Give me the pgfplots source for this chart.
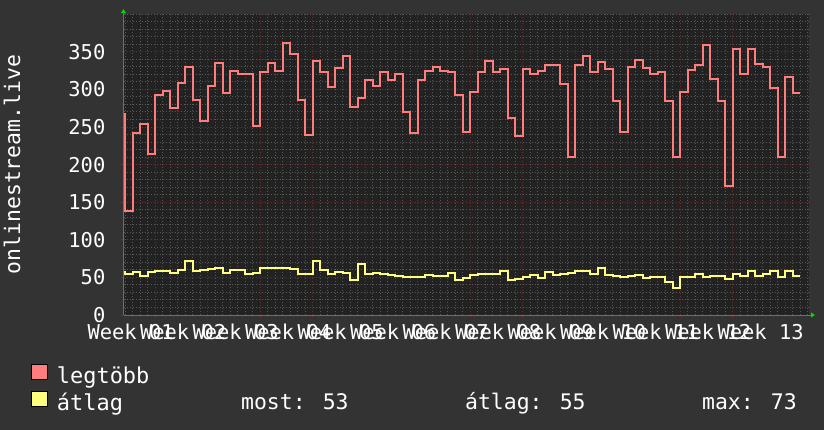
\documentclass[border=0pt]{standalone}
\usepackage{fontspec}
\usepackage{pgfplots}
\pgfplotsset{compat=1.18}
\usetikzlibrary{arrows.meta}
\newfontfamily\dvm{DejaVu Sans Mono}

\definecolor{bgcol}{RGB}{51,51,51}
\definecolor{canvas}{RGB}{34,34,34}
\definecolor{majgrid}{RGB}{115,45,45}
\definecolor{mingrid}{RGB}{88,88,88}
\definecolor{axiscol}{RGB}{110,110,110}
\definecolor{arrowcol}{RGB}{0,220,0}
\definecolor{redc}{RGB}{255,125,125}
\definecolor{yelc}{RGB}{255,255,125}

\begin{document}
\begin{tikzpicture}
\fill[bgcol] (0,0) rectangle (824bp,430bp);
\begin{axis}[
    at={(123.5bp,115bp)}, anchor=south west,
    scale only axis,
    width=685.5bp, height=300.8bp,
    xmin=-0.2, xmax=91.2,
    ymin=0, ymax=400,
    axis background/.style={fill=canvas},
    axis x line=bottom, axis y line=left,
    axis line style={draw=axiscol, line width=1bp},
    x axis line style={-{Triangle[color=arrowcol, length=4bp, width=5bp]}, shorten >=-6bp},
    y axis line style={-{Triangle[color=arrowcol, length=4bp, width=5bp]}, shorten >=-5bp},
    xtick={4,11,...,88}, xticklabels={},
    minor xtick={0,1,...,91},
    ytick={0,50,...,350},
    minor ytick={0,10,...,400},
    extra x ticks={0.75,7.75,...,84.75},
    extra x tick labels={Week 01,Week 02,Week 03,Week 04,Week 05,Week 06,Week 07,Week 08,Week 09,Week 10,Week 11,Week 12,Week 13},
    extra x tick style={grid=none, major tick length=0pt},
    grid=both,
    major grid style={draw=majgrid, line width=1bp, dash pattern=on 1bp off 2bp},
    minor grid style={draw=mingrid, line width=1bp, dash pattern=on 1bp off 2bp},
    tick align=outside,
    major tick length=2bp, minor tick length=0pt,
    tick style={draw=majgrid, line width=1bp},
    /pgf/number format/assume math mode=true,
    ticklabel style={font=\dvm\fontsize{20.5}{24}\selectfont, text=white, inner sep=0pt},
    yticklabel style={anchor=east, xshift=-16bp},
    xticklabel style={anchor=base, yshift=-24bp},
    ylabel={onlinestream.live},
    every axis y label/.style={at={(rel axis cs:0,0.5)}, xshift=-111.5bp, rotate=90, anchor=center,
        font=\dvm\fontsize{21.5}{25}\selectfont, text=white, inner sep=0pt},
    legend style={at={(rel axis cs:0,0)}, anchor=north west, xshift=-92.5bp, yshift=-49bp,
        draw=none, fill=none, text=white, font=\dvm\fontsize{22}{26}\selectfont,
        inner sep=0pt, outer sep=0pt, row sep=6bp, column sep=9bp,
        nodes={inner sep=0pt}},
    legend cell align=left,
]
\addplot[const plot, draw=redc, line width=2bp,
    legend image code/.code={\filldraw[fill=redc, draw=black, line width=1bp] (0bp,-4bp) rectangle (16bp,11bp);}]
    table[x=d, y=v] {
d v
0 268
0 138
1 242
2 254
3 214
4 292
5 298
6 275
7 309
8 330
9 286
10 258
11 305
12 335
13 295
14 324
15 321
16 321
17 251
18 323
19 335
20 324
21 362
22 347
23 286
24 239
25 338
26 323
27 303
28 328
29 345
30 277
31 288
32 313
33 305
34 323
35 312
36 321
37 270
38 242
39 312
40 325
41 330
42 325
43 323
44 293
45 244
46 296
47 323
48 338
49 323
50 327
51 262
52 238
53 327
54 320
55 325
56 333
57 332
58 307
59 210
60 333
61 345
62 323
63 336
64 327
65 284
66 244
67 330
68 339
69 328
70 321
71 323
72 284
73 210
74 297
75 326
76 332
77 359
78 314
79 284
80 171
81 354
82 321
83 354
84 334
85 330
86 302
87 210
88 316
89 295
90 295
};
\addlegendentry{legtöbb}
\addplot[const plot, draw=yelc, line width=2bp,
    legend image code/.code={\filldraw[fill=yelc, draw=black, line width=1bp] (0bp,-4bp) rectangle (16bp,11bp);}]
    table[x=d, y=v] {
d v
0 58
0 54
1 57
2 52
3 57
4 58
5 59
6 56
7 60
8 72
9 58
10 60
11 61
12 62
13 56
14 60
15 60
16 54
17 56
18 63
19 63
20 62
21 62
22 61
23 55
24 54
25 72
26 60
27 54
28 57
29 56
30 47
31 68
32 54
33 56
34 54
35 53
36 52
37 50
38 50
39 51
40 53
41 52
42 52
43 56
44 46
45 49
46 53
47 55
48 54
49 54
50 58
51 46
52 48
53 50
54 53
55 49
56 57
57 53
58 54
59 56
60 58
61 58
62 55
63 62
64 53
65 52
66 50
67 52
68 53
69 49
70 51
71 50
72 44
73 36
74 50
75 50
76 54
77 50
78 52
79 52
80 48
81 54
82 52
83 58
84 52
85 54
86 59
87 51
88 58
89 52
90 52
};
\addlegendentry{átlag}
\end{axis}
\begin{scope}[every node/.style={anchor=base west, inner sep=0pt, text=white, font=\dvm\fontsize{21.5}{26}\selectfont}]
\node at (241bp,21bp) {most: 53};
\node at (465bp,21bp) {átlag: 55};
\node at (702bp,21bp) {max: 73};
\end{scope}
\pgfresetboundingbox
\useasboundingbox (0,0) rectangle (824bp,430bp);
\end{tikzpicture}
\end{document}
